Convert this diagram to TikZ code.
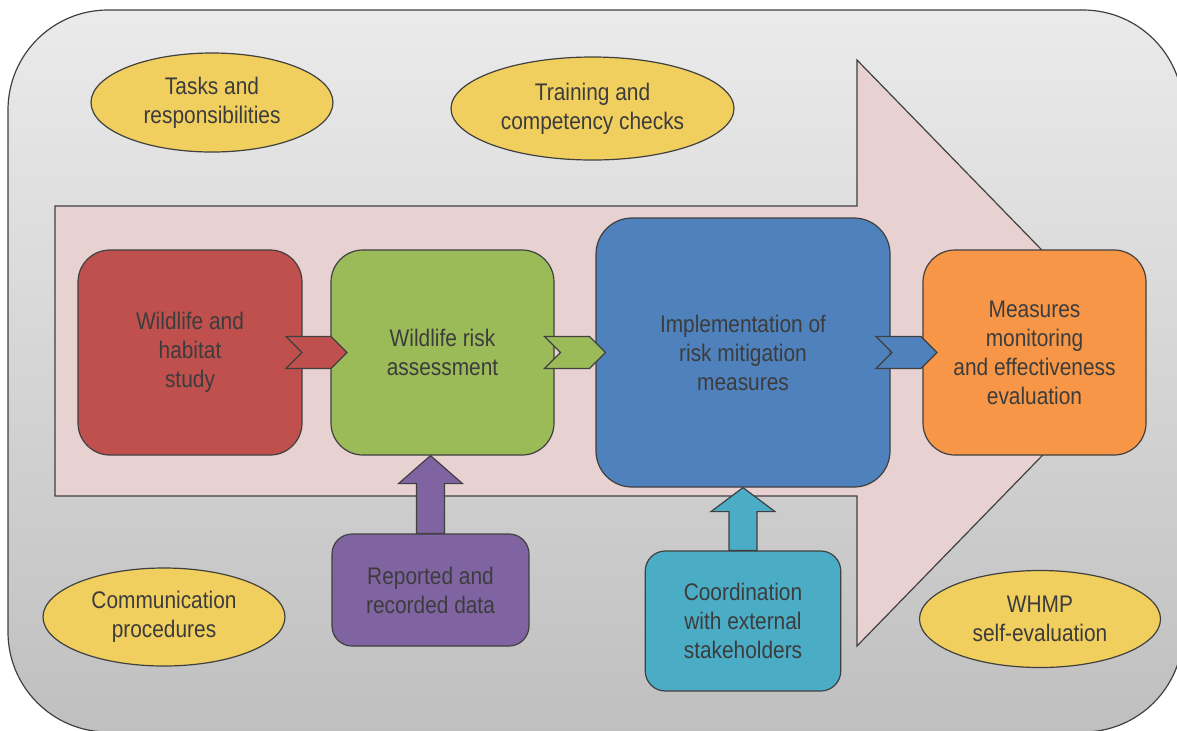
\documentclass[tikz,border=0pt]{standalone}
\usepackage{fontspec}
\setmainfont[FakeStretch=0.87]{Liberation Sans}
\usetikzlibrary{positioning,shapes.geometric,shapes.symbols,calc}
\definecolor{bordc}{HTML}{404040}
\definecolor{txtc}{HTML}{3C3C3C}
\definecolor{redc}{HTML}{C0504D}
\definecolor{greenc}{HTML}{9BBB59}
\definecolor{bluec}{HTML}{4F81BD}
\definecolor{orangec}{HTML}{F79646}
\definecolor{purplec}{HTML}{8064A2}
\definecolor{cyanc}{HTML}{4BACC6}
\definecolor{yellowc}{HTML}{F0CF5E}
\definecolor{pinkc}{HTML}{E8D1D1}

\begin{document}
\begin{tikzpicture}[x=0.5pt,y=-0.5pt,on grid,
    every node/.style={text=txtc,font=\fontsize{12}{14.5}\selectfont,align=center},
    stepbox/.style={draw=bordc,line width=0.6pt,rounded corners=16pt,minimum width=111.5pt,minimum height=102.5pt,inner sep=0pt},
    inbox/.style={draw=bordc,line width=0.6pt,rounded corners=10pt,inner sep=0pt},
    topic/.style={ellipse,draw=bordc,line width=0.6pt,fill=yellowc,inner sep=0pt},
    chev/.style={signal,signal from=west,signal to=east,draw=bordc,line width=0.6pt,minimum width=30.5pt,minimum height=16pt,inner sep=0pt},
    uparr/.style={draw=bordc,line width=0.6pt}]
    \useasboundingbox (0,0) rectangle (1177,730);
    % frame and process arrow
    \shade[top color=black!8,bottom color=black!25,draw=bordc,line width=0.6pt,rounded corners=50pt] (8,10) rectangle (1183,732);
    \draw[draw=bordc,line width=0.6pt,fill=pinkc] (55,206) -- (857,206) -- (857,60) -- (1142,353) -- (857,646) -- (857,496) -- (55,496) -- cycle;
    % steps
    \node[stepbox,fill=redc,minimum width=112pt] (s_1) at (190,352.5) {Wildlife and\\habitat\\study};
    \node[stepbox,fill=greenc] (s_2) [right=126.25pt of s_1] {Wildlife risk\\assessment};
    \node[stepbox,fill=bluec,rounded corners=18pt,minimum width=147pt,minimum height=134.5pt] (s_3) [right=150.25pt of s_2] {Implementation of\\risk mitigation\\measures};
    \node[stepbox,fill=orangec] (s_4) [right=145.75pt of s_3] {Measures\\monitoring\\and effectiveness\\evaluation};
    \node[chev,fill=redc] (c_1) at ($(s_1.east)!0.5!(s_2.west)$) {};
    \node[chev,fill=greenc] (c_2) at ($(s_2.east)!0.5!(s_3.west)$) {};
    \node[chev,fill=bluec] (c_3) at ($(s_3.east)!0.5!(s_4.west)$) {};
    % inputs
    \node[inbox,fill=purplec,minimum width=98.5pt,minimum height=56pt] (in_1) at (430.5,590) {Reported and\\recorded data};
    \node[inbox,fill=cyanc,minimum width=97.75pt,minimum height=70pt] (in_2) at (743,621) {Coordination\\with external\\stakeholders};
    \coordinate (t_1) at (in_1.north |- s_2.south);
    \coordinate (t_2) at (in_2.north |- s_3.south);
    \draw[uparr,fill=purplec] ($(in_1.north)+(-14,0)$) |- ($(t_1)+(-32,28)$) -- (t_1) -- ($(t_1)+(32,28)$) -| ($(in_1.north)+(14,0)$) -- cycle;
    \draw[uparr,fill=cyanc] ($(in_2.north)+(-14,0)$) |- ($(t_2)+(-32,24)$) -- (t_2) -- ($(t_2)+(32,24)$) -| ($(in_2.north)+(14,0)$) -- cycle;
    % topics
    \node[topic,minimum width=121pt,minimum height=49.5pt] (e_1) at (212,102.5) {Tasks and\\responsibilities};
    \node[topic,minimum width=141.5pt,minimum height=51.5pt] (e_2) at (592.5,108.5) {Training and\\competency checks};
    \node[topic,minimum width=121pt,minimum height=49pt] (e_3) at (164,617) {Communication\\procedures};
    \node[topic,minimum width=120.5pt,minimum height=48.5pt] (e_4) at (1040,619) {WHMP\\self-evaluation};
\end{tikzpicture}
\end{document}
